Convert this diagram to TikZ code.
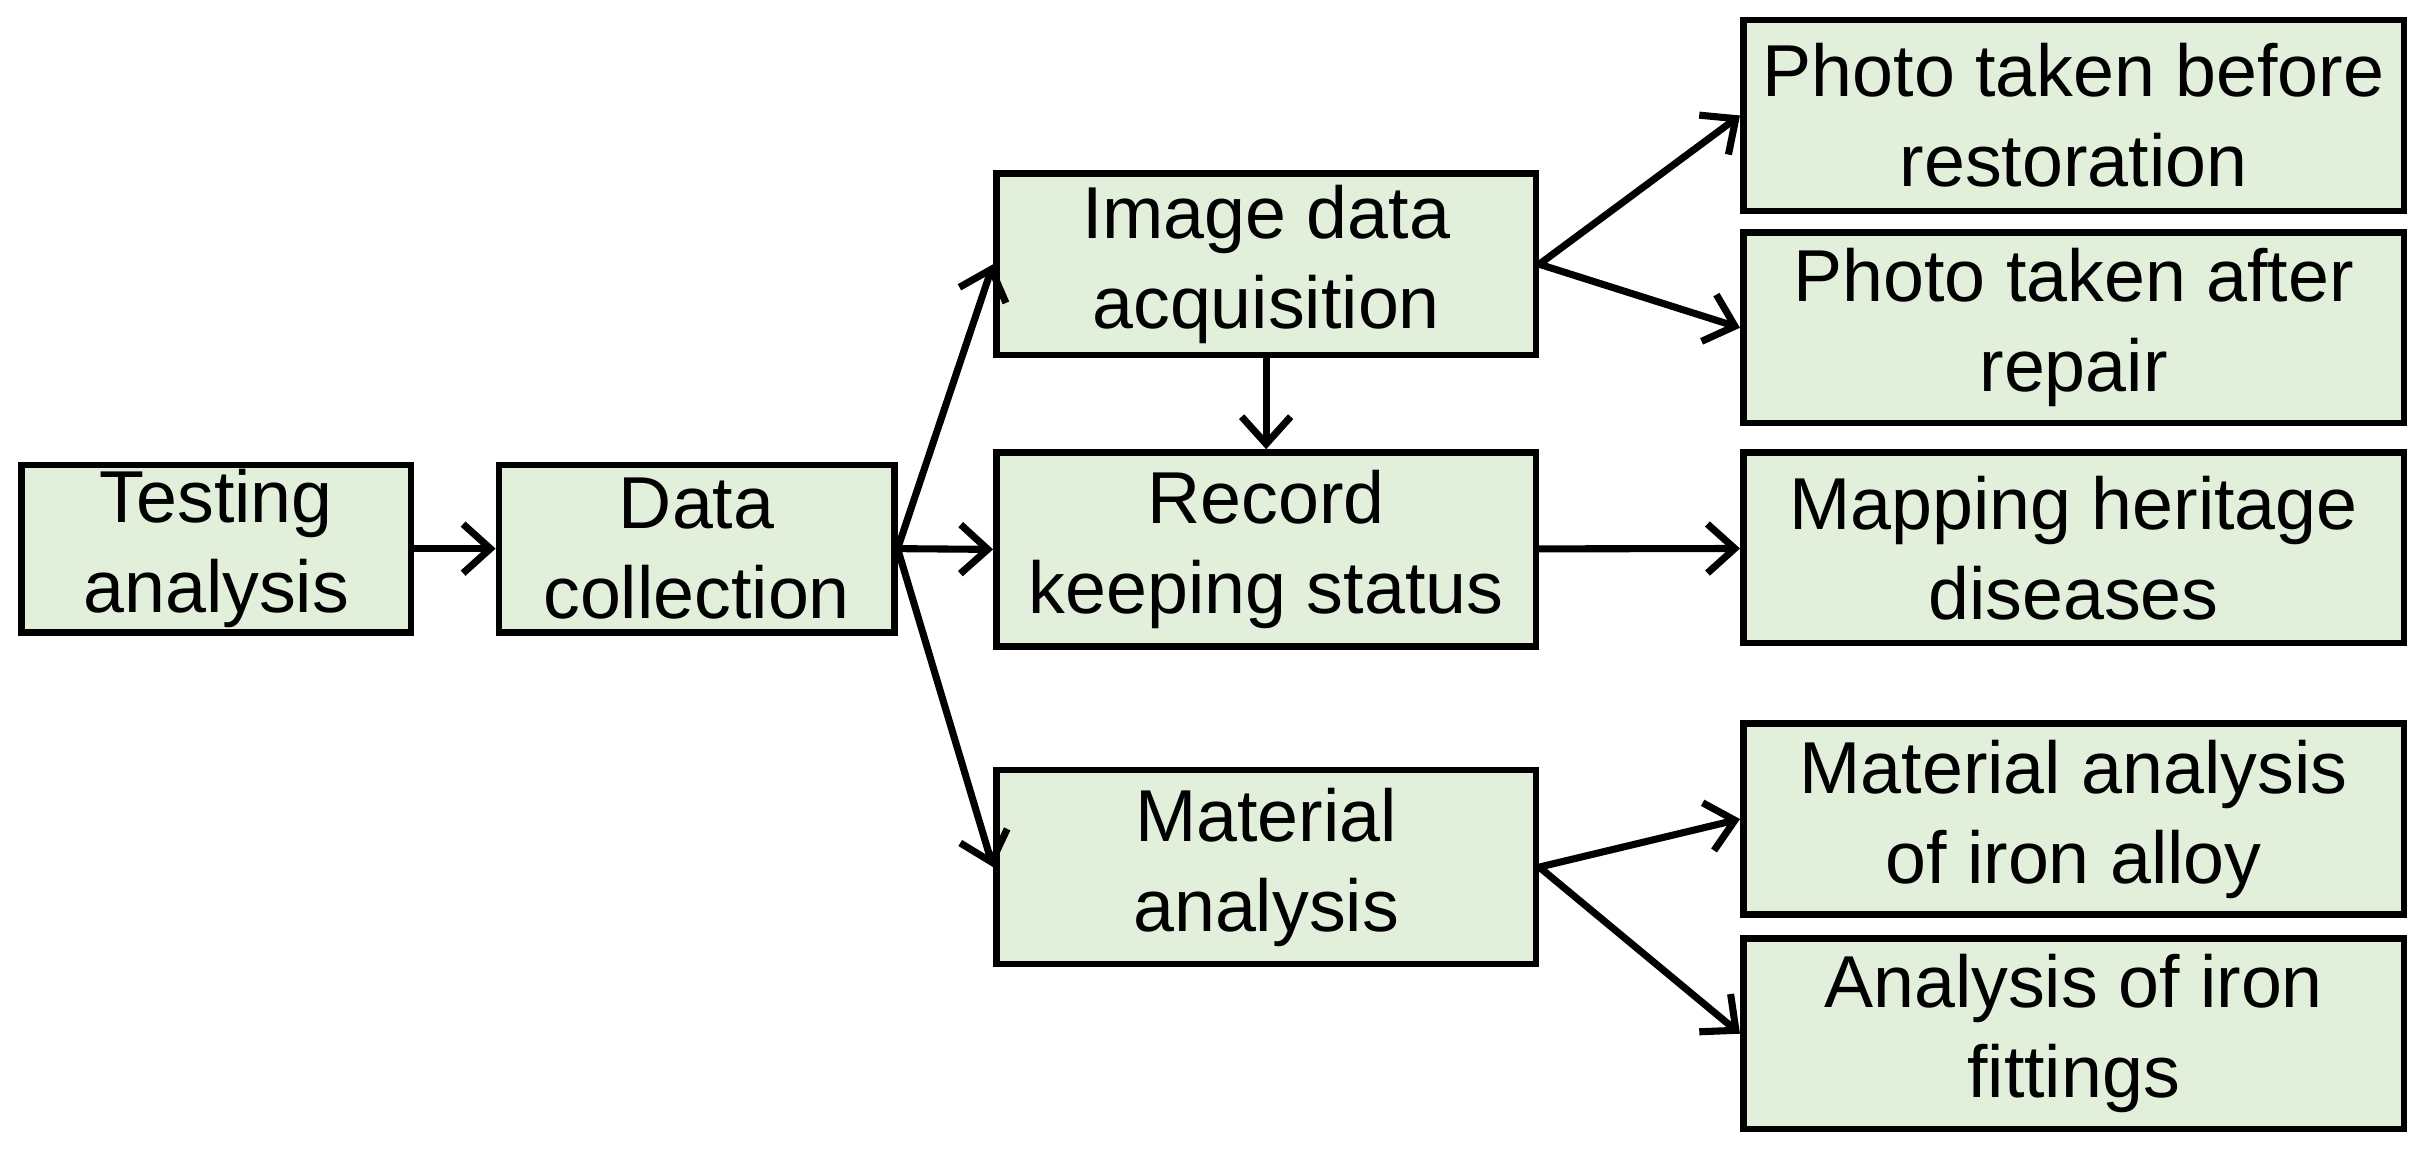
\documentclass[tikz,border=0pt]{standalone}
\usepackage{fontspec}
\setmainfont{Liberation Sans}
\usetikzlibrary{arrows.meta}
\definecolor{boxgreen}{HTML}{E2EFDA}
\tikzset{
  box/.style={draw=black, line width=1.2pt, fill=boxgreen, align=center,
    inner sep=0pt, font=\fontsize{13.5pt}{16.5pt}\selectfont},
  link/.style={line width=1.3pt, -{Straight Barb[length=5pt,width=9pt]}}
}
\begin{document}
\begin{tikzpicture}[x=0.01cm, y=-0.01cm]
\useasboundingbox (0,0) rectangle (1568,744);

\node [box, minimum width=2.51cm, minimum height=1.08cm] (test) at (139.5,354) {Testing\\analysis};
\node [box, minimum width=2.55cm, minimum height=1.08cm] (data) at (449.5,354) {Data\\collection};

\node [box, minimum width=3.48cm, minimum height=1.17cm] (image) at (817,170.5) {Image data\\acquisition};
\node [box, minimum width=3.48cm, minimum height=1.25cm] (record) at (817,354.5) {Record\\keeping status};
\node [box, minimum width=3.48cm, minimum height=1.25cm] (material) at (817,559.5) {Material\\analysis};

\node [box, minimum width=4.26cm, minimum height=1.23cm] (before) at (1338,74.5) {Photo taken before\\restoration};
\node [box, minimum width=4.26cm, minimum height=1.23cm] (after) at (1338,211.5) {Photo taken after\\repair};
\node [box, minimum width=4.26cm, minimum height=1.23cm] (mapping) at (1338,353.5) {Mapping heritage\\diseases};
\node [box, minimum width=4.26cm, minimum height=1.23cm] (alloy) at (1338,528.5) {Material analysis\\of iron alloy};
\node [box, minimum width=4.26cm, minimum height=1.23cm] (fittings) at (1338,667) {Analysis of iron\\fittings};

\draw [link] (test) -- (data);
\draw [link] (data.east) -- (image.west);
\draw [link] (data.east) -- (record.west);
\draw [link] (data.east) -- (material.west);
\draw [link] (image) -- (record);
\draw [link] (image.east) -- (before.west);
\draw [link] (image.east) -- (after.west);
\draw [link] (record) -- (mapping);
\draw [link] (material.east) -- (alloy.west);
\draw [link] (material.east) -- (fittings.west);
\end{tikzpicture}
\end{document}
